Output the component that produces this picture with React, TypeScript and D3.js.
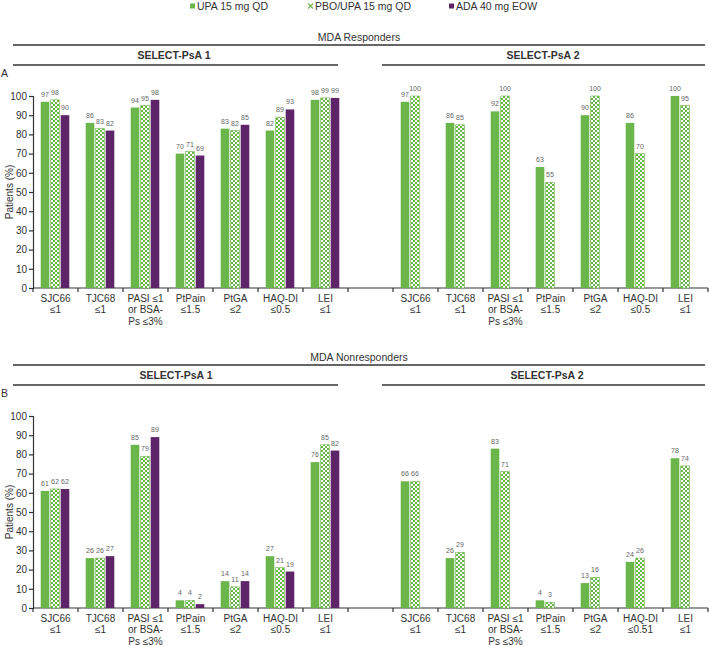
import React, { useEffect, useRef } from 'react';
import * as d3 from 'd3';

// series
const seriesNames = ['UPA 15 mg QD', 'PBO/UPA 15 mg QD', 'ADA 40 mg EOW'];
const seriesKeys = ['upa', 'pbo', 'ada'];

// category labels (line broken)
const catLabels = [
  ['SJC66', '≤1'],
  ['TJC68', '≤1'],
  ['PASI ≤1', 'or BSA-', 'Ps ≤3%'],
  ['PtPain', '≤1.5'],
  ['PtGA', '≤2'],
  ['HAQ-DI', '≤0.5'],
  ['LEI', '≤1'],
];
const catLabelsB2 = [
  ['SJC66', '≤1'],
  ['TJC68', '≤1'],
  ['PASI ≤1', 'or BSA-', 'Ps ≤3%'],
  ['PtPain', '≤1.5'],
  ['PtGA', '≤2'],
  ['HAQ-DI', '≤0.51'],
  ['LEI', '≤1'],
];

// A: MDA responders
const a1Upa = [97, 86, 94, 70, 83, 82, 98];
const a1Pbo = [98, 83, 95, 71, 82, 89, 99];
const a1Ada = [90, 82, 98, 69, 85, 93, 99];
const a2Upa = [97, 86, 92, 63, 90, 86, 100];
const a2Pbo = [100, 85, 100, 55, 100, 70, 95];

// B: MDA nonresponders
const b1Upa = [61, 26, 85, 4, 14, 27, 76];
const b1Pbo = [62, 26, 79, 4, 11, 21, 85];
const b1Ada = [62, 27, 89, 2, 14, 19, 82];
const b2Upa = [66, 26, 83, 4, 13, 24, 78];
const b2Pbo = [66, 29, 71, 3, 16, 26, 74];

const yTicks = [0, 10, 20, 30, 40, 50, 60, 70, 80, 90, 100];

const GREEN = '#6bb64a';
const PURPLE = '#5d2468';
const TEXT = '#333';
const FONT = 'Liberation Sans, Arial, sans-serif';

const W = 709;
const H = 646;

export default function App() {
  const svgRef = useRef<SVGSVGElement>(null);

  useEffect(() => {
    if (!svgRef.current) return;
    const svg = d3.select(svgRef.current);
    svg.selectAll('*').remove();
    svg.style('font-family', FONT);

    // checker pattern
    const defs = svg.append('defs');
    const pat = defs.append('pattern')
      .attr('id', 'checker')
      .attr('patternUnits', 'userSpaceOnUse')
      .attr('width', 4)
      .attr('height', 4);
    pat.append('rect').attr('width', 4).attr('height', 4).attr('fill', '#fff');
    pat.append('rect').attr('width', 2).attr('height', 2).attr('fill', GREEN);
    pat.append('rect').attr('x', 2).attr('y', 2).attr('width', 2).attr('height', 2).attr('fill', GREEN);

    const fills: Record<string, string> = { upa: GREEN, pbo: 'url(#checker)', ada: PURPLE };

    // 7 left slots, 1 gap, 7 right slots
    const x0 = d3.scaleBand<number>().domain(d3.range(15)).range([33, 708]).padding(0);
    const x1 = d3.scaleBand<string>().domain(seriesKeys).range([7.7, 36.3]).paddingInner(0.14);

    // legend
    const legend = svg.append('g').attr('transform', 'translate(0,6)');
    const legendX = [190, 308, 449];
    seriesKeys.forEach((k, i) => {
      const lg = legend.append('g').attr('transform', `translate(${legendX[i]},0)`);
      if (k === 'pbo') {
        lg.append('path')
          .attr('d', 'M0,-2.5 L2.5,0 L5,-2.5 M0,2.5 L2.5,0 L5,2.5')
          .attr('stroke', GREEN)
          .attr('stroke-width', 1.2)
          .attr('fill', 'none');
      } else {
        lg.append('rect').attr('x', 0).attr('y', -2.5).attr('width', 5).attr('height', 5).attr('fill', fills[k]);
      }
      lg.append('text')
        .attr('x', 7)
        .attr('dy', '0.35em')
        .style('font-size', '10.5px')
        .style('fill', TEXT)
        .text(seriesNames[i]);
    });

    const drawPanel = (
      top: number,
      title: string,
      letter: string,
      left: { upa: number[]; pbo: number[]; ada: number[] },
      right: { upa: number[]; pbo: number[] },
      rightLabels: string[][],
      t1x: number,
      t2x: number,
    ) => {
      const g = svg.append('g');
      // header
      g.append('text')
        .attr('x', 359)
        .attr('y', top)
        .attr('text-anchor', 'middle')
        .attr('dy', '0.35em')
        .style('font-size', '10.5px')
        .style('fill', TEXT)
        .text(title);
      g.append('line')
        .attr('x1', 13).attr('x2', 705)
        .attr('y1', top + 8).attr('y2', top + 8)
        .attr('stroke', '#333').attr('stroke-width', 1.5);
      g.append('text')
        .attr('x', t1x).attr('y', top + 18)
        .attr('text-anchor', 'middle').attr('dy', '0.35em')
        .style('font-size', '10.5px').style('font-weight', 'bold').style('fill', TEXT)
        .text('SELECT-PsA 1');
      g.append('text')
        .attr('x', t2x).attr('y', top + 18)
        .attr('text-anchor', 'middle').attr('dy', '0.35em')
        .style('font-size', '10.5px').style('font-weight', 'bold').style('fill', TEXT)
        .text('SELECT-PsA 2');
      g.append('line')
        .attr('x1', 13).attr('x2', 338)
        .attr('y1', top + 28).attr('y2', top + 28)
        .attr('stroke', '#333').attr('stroke-width', 1.5);
      g.append('line')
        .attr('x1', 382).attr('x2', 705)
        .attr('y1', top + 28).attr('y2', top + 28)
        .attr('stroke', '#333').attr('stroke-width', 1.5);
      g.append('text')
        .attr('x', 1).attr('y', top + 36)
        .attr('dy', '0.35em')
        .style('font-size', '10.5px').style('fill', TEXT)
        .text(letter);

      const yTop = top + 59;
      const yBot = yTop + 192;
      const y = d3.scaleLinear().domain([0, 100]).range([yBot, yTop]);

      // y axis
      const yAxis = g.append('g').attr('transform', 'translate(33,0)')
        .call(d3.axisLeft(y).tickValues(yTicks).tickSize(4).tickPadding(2));
      yAxis.select('.domain').attr('stroke', '#333').attr('stroke-width', 1.2);
      yAxis.selectAll('.tick line').attr('stroke', '#333').attr('stroke-width', 1.2);
      yAxis.selectAll('.tick text')
        .style('font-size', '10px').style('fill', TEXT).attr('font-family', FONT);

      g.append('text')
        .attr('transform', `translate(9,${(yTop + yBot) / 2}) rotate(-90)`)
        .attr('text-anchor', 'middle')
        .attr('dy', '0.35em')
        .style('font-size', '10px')
        .style('fill', TEXT)
        .text('Patients (%)');

      // x axis line + ticks at band edges
      g.append('line')
        .attr('x1', 33).attr('x2', 708)
        .attr('y1', yBot).attr('y2', yBot)
        .attr('stroke', '#333').attr('stroke-width', 1.2);
      const edges = d3.range(16).map(i => (i < 15 ? (x0(i) as number) : (x0(14) as number) + x0.bandwidth()));
      g.selectAll('.xt').data(edges).enter().append('line')
        .attr('x1', d => d).attr('x2', d => d)
        .attr('y1', yBot).attr('y2', yBot + 4)
        .attr('stroke', '#333').attr('stroke-width', 1.2);

      // bars
      const drawGroup = (slot: number, keys: string[], vals: number[], labels: string[]) => {
        const cg = g.append('g').attr('transform', `translate(${x0(slot)},0)`);
        keys.forEach((k, j) => {
          const v = vals[j];
          const bx = x1(k) as number;
          cg.append('rect')
            .attr('x', bx)
            .attr('y', y(v))
            .attr('width', x1.bandwidth())
            .attr('height', yBot - y(v))
            .attr('fill', fills[k])
            .attr('stroke', k === 'pbo' ? GREEN : 'none')
            .attr('stroke-width', 0.6);
          cg.append('text')
            .attr('x', bx + x1.bandwidth() / 2)
            .attr('y', y(v) - 5)
            .attr('text-anchor', 'middle')
            .style('font-size', '7px')
            .style('fill', '#666')
            .text(String(v));
        });
        const lt = cg.append('text')
          .attr('text-anchor', 'middle')
          .style('font-size', '10px')
          .style('fill', TEXT);
        labels.forEach((line, li) => {
          lt.append('tspan')
            .attr('x', x0.bandwidth() / 2)
            .attr('y', yBot + 13.5 + li * 11.5)
            .text(line);
        });
      };

      catLabels.forEach((lab, i) => {
        drawGroup(i, ['upa', 'pbo', 'ada'], [left.upa[i], left.pbo[i], left.ada[i]], lab);
      });
      rightLabels.forEach((lab, i) => {
        drawGroup(i + 8, ['upa', 'pbo'], [right.upa[i], right.pbo[i]], lab);
      });
    };

    drawPanel(37, 'MDA Responders', 'A',
      { upa: a1Upa, pbo: a1Pbo, ada: a1Ada },
      { upa: a2Upa, pbo: a2Pbo },
      catLabels, 174, 543);

    drawPanel(357, 'MDA Nonresponders', 'B',
      { upa: b1Upa, pbo: b1Pbo, ada: b1Ada },
      { upa: b2Upa, pbo: b2Pbo },
      catLabelsB2, 176, 547);
  }, []);

  return (
    <svg
      ref={svgRef}
      width={W}
      height={H}
      viewBox={`0 0 ${W} ${H}`}
      style={{ position: 'absolute', left: 0, top: 0, background: '#fff' }}
    />
  );
}
